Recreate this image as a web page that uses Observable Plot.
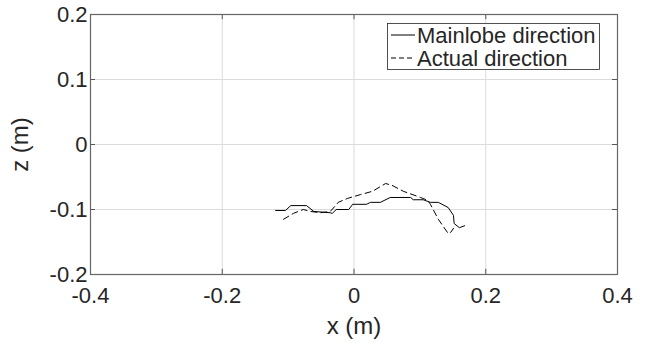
<!DOCTYPE html>
<html><head><meta charset="utf-8">
<script src="https://cdn.jsdelivr.net/npm/d3@7"></script>
<script src="https://cdn.jsdelivr.net/npm/@observablehq/plot@0.6"></script>
<style>body{margin:0;background:#fff} #chart{position:relative;width:651px;height:345px}</style>
</head><body><div id="chart"></div>
<script>
// Mainlobe direction (solid)
const mainX = [-0.119,-0.104,-0.096,-0.072,-0.061,-0.036,-0.033,-0.027,-0.008,-0.002,0.019,0.025,0.040,0.055,0.086,0.090,0.105,0.116,0.128,0.143,0.151,0.152,0.160,0.168];
const mainZ = [-0.1015,-0.1015,-0.094,-0.094,-0.103,-0.105,-0.106,-0.100,-0.100,-0.092,-0.092,-0.089,-0.089,-0.0815,-0.0815,-0.085,-0.085,-0.089,-0.089,-0.097,-0.109,-0.1215,-0.128,-0.125];
// Actual direction (dashed)
const actX = [-0.107,-0.092,-0.077,-0.066,-0.051,-0.036,-0.028,-0.024,-0.010,0.010,0.028,0.048,0.058,0.075,0.101,0.112,0.116,0.128,0.143,0.147,0.151];
const actZ = [-0.115,-0.106,-0.100,-0.103,-0.105,-0.103,-0.094,-0.089,-0.083,-0.077,-0.072,-0.060,-0.063,-0.072,-0.0815,-0.086,-0.092,-0.115,-0.137,-0.135,-0.129];
const seriesNames = ["Mainlobe direction", "Actual direction"];
const xTicks = [-0.4, -0.2, 0, 0.2, 0.4];
const yTicks = [-0.2, -0.1, 0, 0.1, 0.2];
const xLabel = "x (m)";
const yLabel = "z (m)";

const mainData = mainX.map((x, i) => ({x, z: mainZ[i]}));
const actData = actX.map((x, i) => ({x, z: actZ[i]}));
const fmt = d => d === 0 ? "0" : String(d);
const ink = "#262626";
const font = "'Liberation Sans', Arial, Helvetica, sans-serif";
const tickLenY = 0.8 * 5 / 527;

const svg = Plot.plot({
  width: 651, height: 345,
  marginLeft: 90, marginRight: 34, marginTop: 14, marginBottom: 71,
  style: {fontFamily: font, color: ink, background: "#fff", overflow: "visible"},
  x: {domain: [-0.4, 0.4]},
  y: {domain: [-0.2, 0.2]},
  marks: [
    Plot.ruleX(xTicks, {stroke: "#dcdcdc", strokeWidth: 1}),
    Plot.ruleY(yTicks, {stroke: "#dcdcdc", strokeWidth: 1}),
    Plot.ruleX(xTicks, {x: d => d, y1: -0.2, y2: -0.2 + 0.008, stroke: "#555"}),
    Plot.ruleX(xTicks, {x: d => d, y1: 0.2, y2: 0.2 - 0.008, stroke: "#555"}),
    Plot.ruleY(yTicks, {y: d => d, x1: -0.4, x2: -0.4 + tickLenY, stroke: "#555"}),
    Plot.ruleY(yTicks, {y: d => d, x1: 0.4, x2: 0.4 - tickLenY, stroke: "#555"}),
    Plot.frame({stroke: "#666", strokeWidth: 1.2}),
    Plot.axisX({ticks: xTicks, tickSize: 0, tickPadding: 13, fontSize: 22, tickFormat: fmt, label: null, fill: ink}),
    Plot.axisY({ticks: yTicks, tickSize: 0, tickPadding: 3, fontSize: 22, tickFormat: fmt, label: null, fill: ink}),
    Plot.axisX({ticks: [], label: xLabel, labelAnchor: "center", labelArrow: "none", labelOffset: 59, fontSize: 24, fill: ink}),
    Plot.axisY({ticks: [], label: yLabel, labelAnchor: "center", labelArrow: "none", labelOffset: 80, fontSize: 24, fill: ink}),
    Plot.line(mainData, {x: "x", y: "z", stroke: "#000", strokeWidth: 1}),
    Plot.line(actData, {x: "x", y: "z", stroke: "#000", strokeWidth: 1, strokeDasharray: "6,4"})
  ]
});
document.getElementById("chart").appendChild(svg);

// Legend inside the axes (top-right)
const g = d3.select(svg).append("g").attr("font-family", font).attr("font-size", 22)
  .attr("fill", ink).attr("text-anchor", "start");
g.append("rect").attr("x", 387.5).attr("y", 23.5).attr("width", 212).attr("height", 46)
  .attr("fill", "#fff").attr("stroke", ink).attr("stroke-width", 0.8);
const dashes = [null, "5,3"];
seriesNames.forEach((name, i) => {
  const cy = 35 + i * 23;
  g.append("line").attr("x1", 391).attr("x2", 415).attr("y1", cy).attr("y2", cy)
    .attr("stroke", "#000").attr("stroke-width", 1).attr("stroke-dasharray", dashes[i]);
  g.append("text").attr("x", 417).attr("y", cy + 8).attr("text-anchor", "start").text(name);
});
</script>
</body></html>
